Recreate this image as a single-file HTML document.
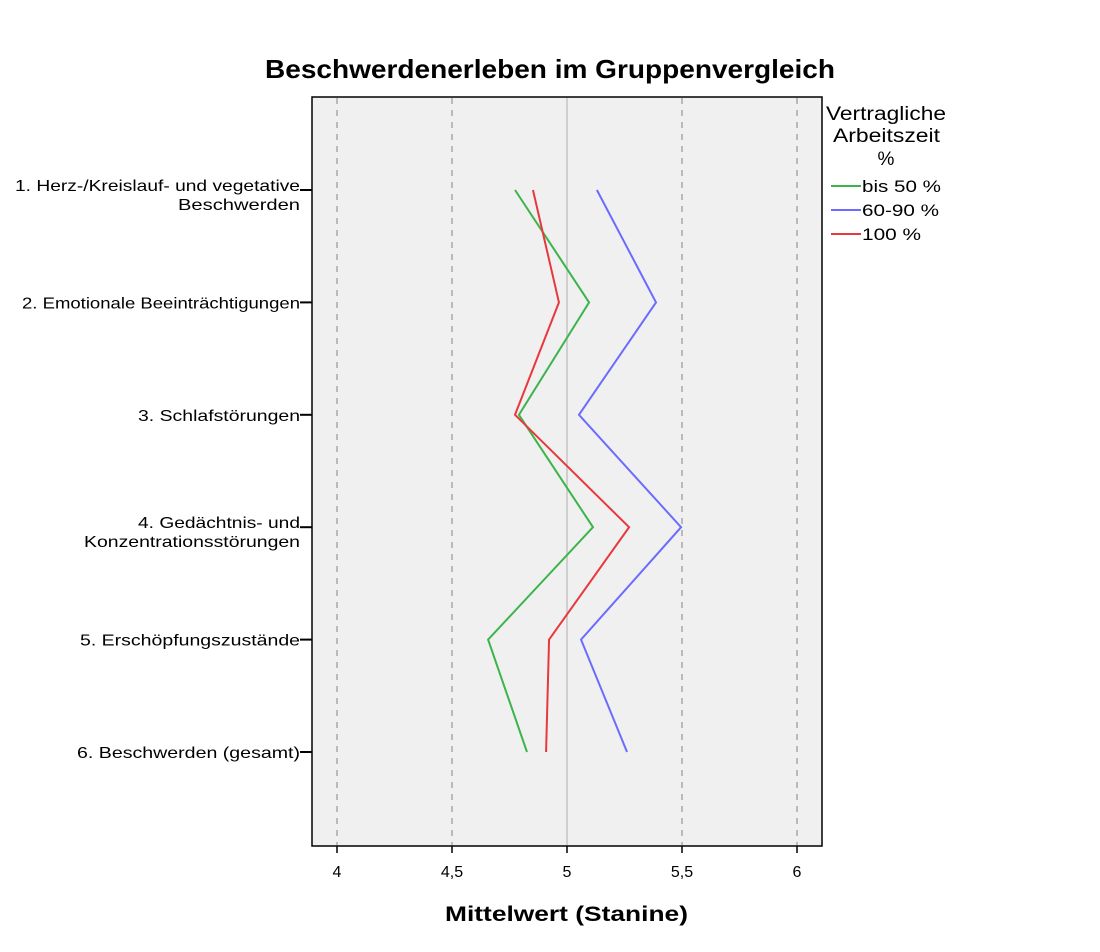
<!DOCTYPE html>
<html><head><meta charset="utf-8"><style>
body{margin:0;background:#fff;width:1100px;height:952px;overflow:hidden}
svg{display:block;font-family:"Liberation Sans",Arial,sans-serif}
</style></head><body>
<svg id="chart" width="1100" height="952">
<text x="265" y="78" textLength="570" lengthAdjust="spacingAndGlyphs" font-size="26" font-weight="bold">Beschwerdenerleben im Gruppenvergleich</text>
<rect x="312" y="97" width="510" height="749" fill="#f0f0f0" stroke="#000" stroke-width="1.5"/>
<g id="grid"></g>
<g id="series"></g>
<g id="yaxis"></g>
<g id="xaxis"></g>
<text x="445" y="921" textLength="243" lengthAdjust="spacingAndGlyphs" font-size="21" font-weight="bold">Mittelwert (Stanine)</text>
<g font-size="19">
<text x="826" y="120" textLength="120" lengthAdjust="spacingAndGlyphs">Vertragliche</text>
<text x="833" y="142" textLength="107" lengthAdjust="spacingAndGlyphs">Arbeitszeit</text>
<text x="886" y="165" text-anchor="middle">%</text>
</g>
<g id="legend-entries"></g>
</svg>
<script>
const categories=[["1. Herz-/Kreislauf- und vegetative","Beschwerden"],["2. Emotionale Beeinträchtigungen"],["3. Schlafstörungen"],["4. Gedächtnis- und","Konzentrationsstörungen"],["5. Erschöpfungszustände"],["6. Beschwerden (gesamt)"]];
const labelWidths=[[285,122],[278],[162],[162,216],[220],[223]];
const seriesNames=["bis 50 %","60-90 %","100 %"];
const legendWidths=[79,77,59];
const seriesColors=["#3cb44b","#6b6bff","#e8383d"];
const greenValues=[4.774,5.096,4.791,5.113,4.657,4.826];
const blueValues=[5.13,5.387,5.052,5.496,5.061,5.261];
const redValues=[4.852,4.965,4.774,5.27,4.922,4.909];
const xTicks=[4,4.5,5,5.5,6];
const xTickLabels=["4","4,5","5","5,5","6"];
const NS="http://www.w3.org/2000/svg";
function xs(v){return 337+(v-4)*230;}
function ys(i){return 190+i*112.4;}
function mk(tag,attrs,parent){const e=document.createElementNS(NS,tag);for(const k in attrs)e.setAttribute(k,attrs[k]);parent.appendChild(e);return e;}
const grid=document.getElementById('grid'),xa=document.getElementById('xaxis'),ya=document.getElementById('yaxis'),sg=document.getElementById('series'),lg=document.getElementById('legend-entries');
xTicks.forEach((t,i)=>{
 const x=xs(t);
 const g=mk('line',{x1:x,x2:x,y1:98,y2:845,stroke:t===5?'#c4c4c4':'#a8a8a8','stroke-width':1.5,'stroke-dasharray':t===5?'none':'6,6'},grid);
 
 
 const tk=mk('line',{x1:x,x2:x,y1:846,y2:853,stroke:'#000','stroke-width':1.5},xa);
 
 
 const tl=mk('text',{x:x,y:877,'text-anchor':'middle','font-size':16},xa);
 tl.textContent=xTickLabels[i];
 
 
});
categories.forEach((c,i)=>{
 const y=ys(i);
 const tk=mk('line',{x1:300,x2:312,y1:y,y2:y,stroke:'#000','stroke-width':2},ya);
 
 
 c.forEach((line,j)=>{
  const w=labelWidths[i][j];
  const t=mk('text',{x:300-w,y:y+(c.length>1?1+j*19:6),'font-size':16,textLength:w,lengthAdjust:'spacingAndGlyphs'},ya);
  t.textContent=line;
  
  
 });
});
[greenValues,blueValues,redValues].forEach((vals,s)=>{
 const pts=vals.map((v,i)=>xs(v)+','+ys(i)).join(' ');
 const p=mk('polyline',{points:pts,fill:'none',stroke:seriesColors[s],'stroke-width':2},sg);
 
 
 const ly=186+s*24;
 const l=mk('line',{x1:831,x2:861,y1:ly,y2:ly,stroke:seriesColors[s],'stroke-width':2},lg);
 
 
 const t=mk('text',{x:862,y:ly+6,'font-size':17,textLength:legendWidths[s],lengthAdjust:'spacingAndGlyphs'},lg);
 t.textContent=seriesNames[s];
 
 
});
</script>
</body></html>
